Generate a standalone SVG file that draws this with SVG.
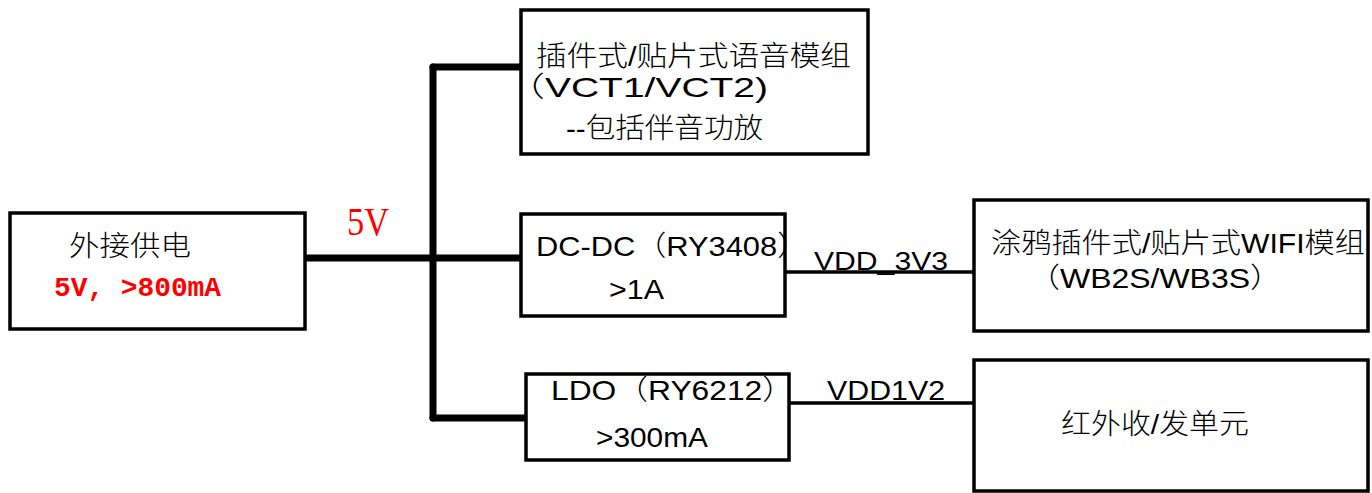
<svg xmlns="http://www.w3.org/2000/svg" width="1372" height="493" viewBox="0 0 1372 493">
<style>
.box{fill:#fff;stroke:#000;stroke-width:3.5}
.t{font-family:"Liberation Sans","Noto Sans CJK SC",sans-serif;font-size:28px;font-weight:300;fill:#000}
.bus{fill:none;stroke:#000;stroke-width:7;stroke-linecap:round;stroke-linejoin:round}
.thin{fill:none;stroke:#000;stroke-width:3.5;stroke-linecap:round}
.red{fill:#ff0000}
</style>
<rect width="1372" height="493" fill="#fff"/>
<g id="connectors">
<path class="bus" d="M433,67 V418"/>
<path class="bus" d="M305,258 H521"/>
<path class="bus" d="M433,67 H521"/>
<path class="bus" d="M433,418 H524"/>
<path class="thin" d="M785,272 H974"/>
<path class="thin" d="M784,403 H974"/>
<text class="t red" x="347" y="235" style="font-family:'Liberation Serif',serif;font-size:41px;font-weight:normal" textLength="42" lengthAdjust="spacingAndGlyphs">5V</text>
<text class="t" x="814" y="270" style="font-size:26px" textLength="134" lengthAdjust="spacingAndGlyphs">VDD_3V3</text>
<text class="t" x="827" y="400" textLength="118" lengthAdjust="spacingAndGlyphs">VDD1V2</text>
</g>
<g id="power">
<rect class="box" x="10" y="213" width="295" height="116"/>
<text class="t" x="69" y="256" textLength="122" lengthAdjust="spacingAndGlyphs">外接供电</text>
<text class="t red" x="54" y="296" style="font-family:'Liberation Mono',monospace;font-weight:bold;font-size:28px" textLength="167" lengthAdjust="spacingAndGlyphs">5V, &gt;800mA</text>
</g>
<g id="voice">
<rect class="box" x="521" y="10" width="347" height="144"/>
<text class="t" x="536" y="66" textLength="315" lengthAdjust="spacingAndGlyphs">插件式/贴片式语音模组</text>
<text class="t" x="506" y="97" textLength="262" lengthAdjust="spacingAndGlyphs">（VCT1/VCT2)</text>
<text class="t" x="566" y="138" textLength="197" lengthAdjust="spacingAndGlyphs">--包括伴音功放</text>
</g>
<g id="dcdc">
<rect class="box" x="521" y="214" width="264" height="102"/>
<text class="t" x="536" y="256" textLength="272" lengthAdjust="spacingAndGlyphs">DC-DC（RY3408）</text>
<text class="t" x="609" y="299" textLength="55" lengthAdjust="spacingAndGlyphs">&gt;1A</text>
</g>
<g id="ldo">
<rect class="box" x="526" y="374" width="263" height="86"/>
<text class="t" x="551" y="400" textLength="243" lengthAdjust="spacingAndGlyphs">LDO（RY6212）</text>
<text class="t" x="596" y="447" textLength="112" lengthAdjust="spacingAndGlyphs">&gt;300mA</text>
</g>
<g id="wifi">
<rect class="box" x="974" y="200" width="394" height="131"/>
<text class="t" x="991" y="253" textLength="374" lengthAdjust="spacingAndGlyphs">涂鸦插件式/贴片式WIFI模组</text>
<text class="t" x="1028" y="288" textLength="254" lengthAdjust="spacingAndGlyphs">（WB2S/WB3S）</text>
</g>
<g id="ir">
<rect class="box" x="974" y="360" width="394" height="131"/>
<text class="t" x="1061" y="434" textLength="188" lengthAdjust="spacingAndGlyphs">红外收/发单元</text>
</g>
</svg>
